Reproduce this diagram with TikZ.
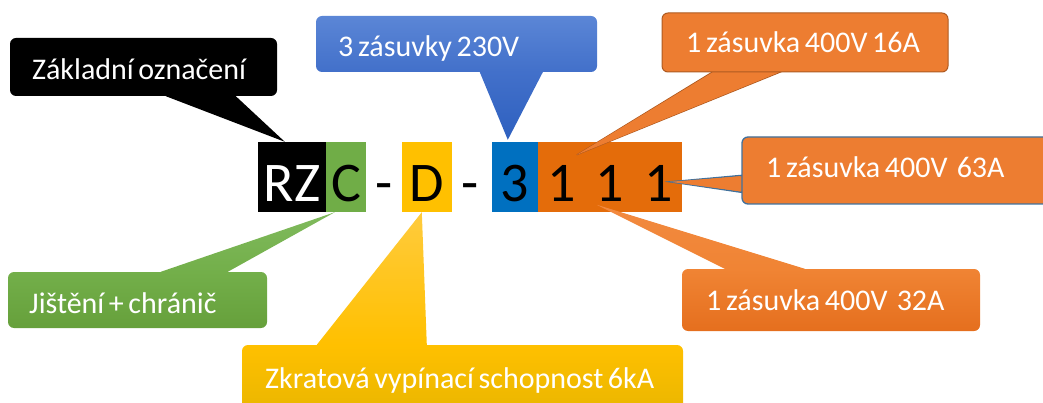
\documentclass[tikz,border=0pt]{standalone}
\usepackage{fontspec}
\setmainfont{Carlito}[WordSpace=0.68]
\usetikzlibrary{calc}
\definecolor{stripOrange}{HTML}{E46C0A}
\definecolor{stripBlue}{HTML}{0070C0}
\definecolor{stripGreen}{HTML}{70AD47}
\definecolor{stripYellow}{HTML}{FFC000}
\definecolor{calOrange}{HTML}{ED7D31}
\definecolor{calOrangeLine}{HTML}{AE5A21}
\definecolor{calBlueLine}{HTML}{41719C}
\definecolor{blueTop}{HTML}{5B86D6}
\definecolor{blueMid}{HTML}{4270CA}
\definecolor{blueTip}{HTML}{2E60BF}
\definecolor{greenTip}{HTML}{80BA5D}
\definecolor{greenTop}{HTML}{73AF4A}
\definecolor{greenBot}{HTML}{66A03B}
\definecolor{yelTip}{HTML}{FFCB3D}
\definecolor{yelTop}{HTML}{FFC000}
\definecolor{yelBot}{HTML}{E9B600}
\definecolor{orTip}{HTML}{F28A40}
\definecolor{orTop}{HTML}{F08434}
\definecolor{orBot}{HTML}{E56F1E}
\pgfdeclarelayer{strip}
\pgfdeclarelayer{tails}
\pgfsetlayers{strip,tails,main}
\tikzset{
  cell/.style={rectangle, inner sep=0pt, minimum height=70pt, text height=50pt, text depth=0pt, font=\fontsize{56}{60}\selectfont},
  callbox/.style={rectangle, rounded corners=6pt, inner sep=0pt},
  calltext/.style={anchor=base west, inner sep=0pt, text=white, font=\fontsize{30}{36}\selectfont},
}
\begin{document}
\begin{tikzpicture}[x=1pt,y=-1pt]
\clip (0,0) rectangle (1043,403);
% strip of letters
\begin{pgfonlayer}{strip}
\node[cell, fill=black, text=white, minimum width=68pt] (rz) at (292,177) {RZ};
\node[cell, fill=stripGreen, minimum width=40pt] (c) at (346,177) {C};
\node[cell] (dash1) at (384,177) {-};
\node[cell, fill=stripYellow, minimum width=50pt] (d) at (427,177) {D};
\node[cell] (dash2) at (470,177) {-};
\node[cell, fill=stripBlue, minimum width=46pt] (n3) at (515,177) {3};
\node[cell, fill=stripOrange, minimum width=144pt] (n111) at (610,177) {1\hspace{20pt}1\hspace{20pt}1};
\end{pgfonlayer}
\coordinate (tipBlack) at ($(rz.north west)+(27,0)$);
\coordinate (tipBlue) at ($(n3.north west)+(16,-2)$);
\coordinate (tip16) at ($(n111.north west)+(39,13)$);
\coordinate (tip63) at ($(n111.north west)+(132,40)$);
\coordinate (tip32) at ($(n111.north west)+(59,63)$);
\coordinate (tipGreen) at ($(c.south west)+(9,0)$);
\coordinate (tipYellow) at ($(d.south west)+(20,0)$);
% callout boxes
\node[callbox, fill=black, minimum width=267pt, minimum height=58pt] (kBlack) at (143.5,67) {};
\node[callbox, shade, top color=blueTop, bottom color=blueMid, minimum width=281pt, minimum height=56pt] (kBlue) at (456.5,44) {};
\node[callbox, fill=calOrange, draw=calOrangeLine, line width=1pt, minimum width=286pt, minimum height=59pt] (k16) at (805,42.5) {};
\node[callbox, fill=calOrange, draw=calBlueLine, line width=1.3pt, minimum width=318pt, minimum height=67pt] (k63) at (901,170.5) {};
\node[callbox, shade, top color=orTop, bottom color=orBot, minimum width=298pt, minimum height=62pt] (k32) at (831,300) {};
\node[callbox, shade, top color=greenTop, bottom color=greenBot, minimum width=259pt, minimum height=56pt] (kGreen) at (137.5,300) {};
\node[callbox, shade, top color=yelTop, bottom color=yelBot, minimum width=441pt, minimum height=70pt] (kYellow) at (462.5,380) {};
% tails
\begin{pgfonlayer}{tails}
\fill[black] ($(kBlack.south west)+(156,0)$) -- (tipBlack) -- ($(kBlack.south west)+(226,0)$) -- cycle;
\shade[top color=blueMid, bottom color=blueTip] ($(kBlue.south west)+(164,0)$) -- (tipBlue) -- ($(kBlue.south west)+(227,0)$) -- cycle;
\draw[fill=calOrange, draw=calOrangeLine, line width=1pt, line join=miter] ($(k16.south west)+(50,0)$) -- (tip16) -- ($(k16.south west)+(118,0)$) -- cycle;
\draw[fill=calOrange, draw=calBlueLine, line width=1.3pt] ($(k63.north west)+(0,39)$) -- (tip63) -- ($(k63.north west)+(0,56)$) -- cycle;
\shade[top color=orTip, bottom color=orTop] ($(k32.north west)+(43,0)$) -- (tip32) -- ($(k32.north west)+(123,0)$) -- cycle;
\shade[top color=greenTip, bottom color=greenTop] ($(kGreen.north west)+(153,0)$) -- (tipGreen) -- ($(kGreen.north west)+(220,0)$) -- cycle;
\shade[top color=yelTip, bottom color=yelTop] ($(kYellow.north west)+(75,0)$) -- (tipYellow) -- ($(kYellow.north west)+(185,0)$) -- cycle;
\end{pgfonlayer}
% hide box outline across the bordered tails' bases
\fill[calOrange] ($(k16.south west)+(50.9,0)$) -- (tip16) -- ($(k16.south west)+(117.2,0)$) -- cycle;
\fill[calOrange] ($(k63.north west)+(0,39.9)$) -- (tip63) -- ($(k63.north west)+(0,55.1)$) -- cycle;
% texts
\node[calltext] (tBlack) at (32,80) {Základní označení};
\node[calltext] (tBlue) at (338,57) {3 zásuvky 230V};
\node[calltext] (t16) at (686,53) {1 zásuvka 400V 16A};
\node[calltext] (t63) at (766,178) {1 zásuvka 400V\ \ 63A};
\node[calltext] (t32) at (706,310) {1 zásuvka 400V\ \ 32A};
\node[calltext] (tGreen) at (29,313) {Jištění + chránič};
\node[calltext] (tYellow) at (265,388) {Zkratová vypínací schopnost 6kA};
\end{tikzpicture}
\end{document}
